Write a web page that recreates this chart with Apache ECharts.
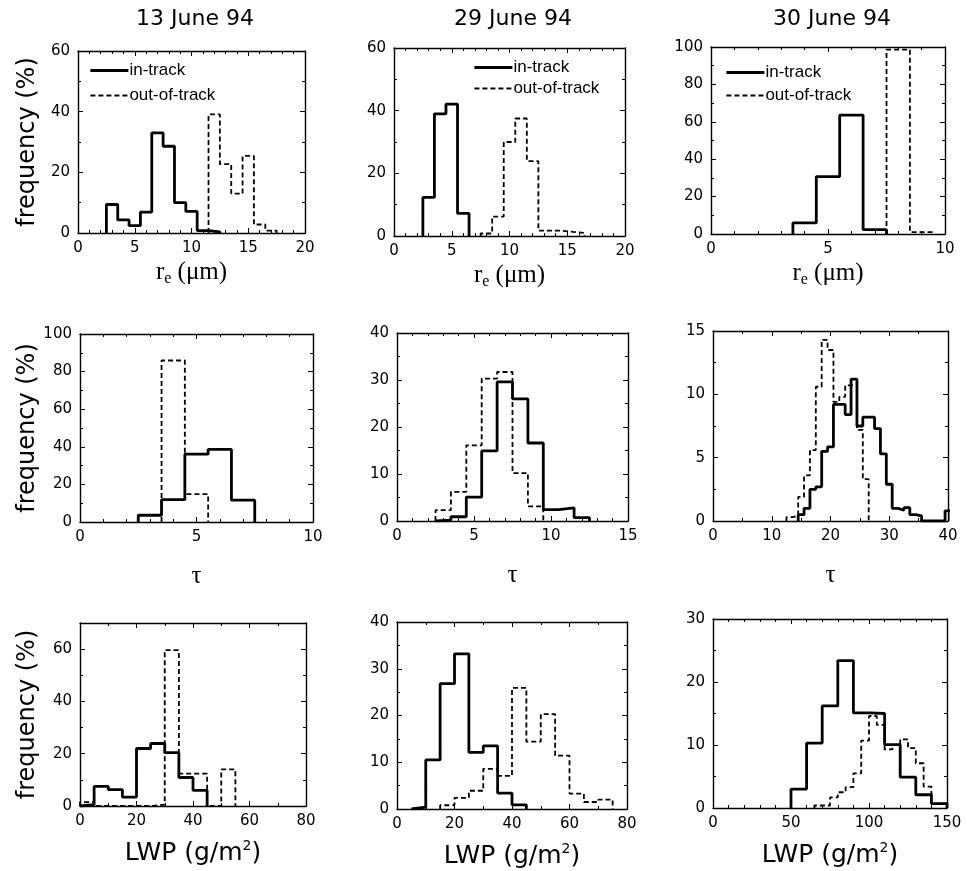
<!DOCTYPE html>
<html>
<head>
<meta charset="utf-8">
<script src="https://cdn.jsdelivr.net/npm/echarts@6/dist/echarts.min.js"></script>
<style>
  html, body { margin: 0; background: #fff; }
  #chart { width: 967px; height: 871px; }
</style>
</head>
<body>
<div id="chart"></div>
<script>
// column titles and series
const dates = ['13 June 94', '29 June 94', '30 June 94'];
const seriesNames = ['in-track', 'out-of-track'];

// frequency (%) per bin, one list per date; lower edge of the first bin in *Start
// r_e (um), 1 um bins
const reIn = [
  [9.4, 4.3, 2.4, 6.9, 33.0, 28.6, 10.0, 7.1, 0.8, 0.4],
  [12.3, 39.0, 42.1, 7.2],
  [5.9, 30.7, 63.6, 2.3]
];
const reOut = [
  [39.1, 22.7, 13.0, 25.4, 2.8, 0.8],
  [0.8, 6.2, 30.0, 37.5, 23.9, 1.7, 1.7, 1.3, 1.0],
  [98.6, 1.0]
];
const reStart = [[2.5, 11.5], [2.5, 7.5], [3.5, 7.5]];

// tau, 1 unit bins
const tauIn = [
  [3.6, 11.9, 36.1, 38.6, 11.6],
  [0.2, 0.9, 5.1, 14.9, 29.6, 26.0, 16.6, 2.4, 2.8, 0.7],
  [0.5, 1.0, 2.5, 2.7, 5.5, 5.85, 9.2, 9.2, 8.4, 11.2, 7.5, 8.2, 8.2, 7.3, 5.3, 2.9,
   1.0, 0.85, 1.05, 0.5, 0.4, 0, 0, 0, 0, 0.8]
];
const tauOut = [
  [85.9, 14.8],
  [2.3, 6.2, 16.1, 30.3, 31.7, 10.2, 3.1],
  [0.3, 0.4, 1.9, 3.6, 5.6, 10.6, 14.3, 13.5, 9.4, 9.8, 10.7, 10.8, 7.2, 3.3]
];
const tauStart = [[2.5, 3.5], [2.5, 2.5], [14.5, 12.5]];

// LWP (g/m2)
const lwpIn = [
  [0.5, 7.5, 6.3, 3.4, 22.0, 23.9, 20.4, 10.9, 6.0],
  [0.4, 10.5, 26.8, 33.2, 12.1, 13.5, 3.4, 0.9],
  [3.0, 10.3, 16.2, 23.4, 15.1, 15.0, 10.05, 4.9, 2.1, 0.7]
];
const lwpOut = [
  [1.5, 0, 0, 0, 0, 0.5, 59.6, 12.4, 12.4, 0, 14.0],
  [0.8, 2.4, 3.9, 8.6, 7.1, 25.9, 14.4, 20.3, 11.4, 3.3, 1.5, 2.0],
  [0.4, 0.4, 1.7, 2.5, 3.3, 5.5, 10.7, 14.6, 13.2, 9.3, 10.0, 10.9, 9.5, 7.1, 3.4, 0.7, 0.7]
];
const lwpStart = [[0, 0], [5, 15], [50, 65]];
const lwpWidth = [[5, 5], [5, 5], [10, 5]];

// axis ranges [max, interval, minor splits] per row and column
const xAxes = [
  [[20, 5, 5], [20, 5, 5], [10, 5, 5]],
  [[10, 5, 5], [15, 5, 5], [40, 10, 2]],
  [[80, 20, 2], [80, 20, 2], [150, 50, 5]]
];
const yAxes = [
  [[60, 20, 2], [60, 20, 2], [100, 20, 2]],
  [[100, 20, 2], [40, 10, 2], [15, 5, 2]],
  [[70, 20, 2], [40, 10, 2], [30, 10, 2]]
];

// step outline of a histogram
function hist(start, width, vals) {
  const pts = [[start, 0]];
  vals.forEach((v, i) => {
    pts.push([start + i * width, v]);
    pts.push([start + (i + 1) * width, v]);
  });
  pts.push([start + vals.length * width, 0]);
  return pts;
}

const rows = [
  { inn: reIn, out: reOut, start: reStart, width: [[1, 1], [1, 1], [1, 1]] },
  { inn: tauIn, out: tauOut, start: tauStart, width: [[1, 1], [1, 1], [1, 1]] },
  { inn: lwpIn, out: lwpOut, start: lwpStart, width: lwpWidth }
];

// plot boxes [left, top, right, bottom] in px
const boxes = [
  [[78, 51, 305, 233], [394, 48, 625, 236], [711, 47, 945, 234]],
  [[80, 334, 313, 522], [397, 333, 628, 521], [713, 331, 948, 521]],
  [[80, 623, 306, 806], [397, 622, 627, 809], [713, 619, 947, 808]]
];
const titleX = [195, 513, 832];

const sans = 'DejaVu Sans';
const xNames = [
  { text: 'r{e|e} (μm)', gap: 24, font: 'Liberation Serif' },
  { text: 'τ', gap: 42, font: 'Liberation Serif' },
  { text: 'LWP (g/m{s|2})', gap: 33, font: sans }
];

const solid = { color: '#000', width: 2.8 };
const dashed = { color: '#000', width: 1.8, type: [5, 3] };

const grid = [], xAxis = [], yAxis = [], series = [], legend = [];
const frame = { show: true, onZero: false, lineStyle: { color: '#000', width: 1.4 } };

for (let r = 0; r < 3; r++) {
  for (let c = 0; c < 3; c++) {
    const k = r * 3 + c;
    const b = boxes[r][c];
    grid.push({ left: b[0], top: b[1], width: b[2] - b[0], height: b[3] - b[1] });
    const xa = xAxes[r][c], ya = yAxes[r][c];
    const tick = { show: true, inside: true, length: 5, lineStyle: { color: '#000', width: 1 } };
    const minor = n => ({ show: true, splitNumber: n, length: 3, lineStyle: { color: '#000', width: 1 } });
    const lab = { color: '#000', fontFamily: sans, fontSize: 15, margin: 8 };
    xAxis.push({
      type: 'value', gridIndex: k, min: 0, max: xa[0], interval: xa[1],
      axisLine: frame, axisTick: tick, minorTick: minor(xa[2]),
      splitLine: { show: false }, axisLabel: lab,
      name: xNames[r].text, nameLocation: 'middle', nameGap: xNames[r].gap,
      nameTextStyle: {
        color: '#000', fontFamily: xNames[r].font, fontSize: 25,
        rich: {
          e: { fontFamily: xNames[r].font, fontSize: 16, color: '#000', padding: [14, 0, 0, 0] },
          s: { fontFamily: sans, fontSize: 14, color: '#000', padding: [0, 0, 14, 0] }
        }
      }
    });
    xAxis.push({
      type: 'value', gridIndex: k, position: 'top', min: 0, max: xa[0], interval: xa[1],
      axisLine: frame, axisTick: tick, minorTick: minor(xa[2]),
      splitLine: { show: false }, axisLabel: { show: false }
    });
    yAxis.push({
      type: 'value', gridIndex: k, min: 0, max: ya[0], interval: ya[1],
      axisLine: frame, axisTick: tick, minorTick: minor(ya[2]),
      splitLine: { show: false },
      axisLabel: Object.assign({ showMaxLabel: ya[0] % ya[1] === 0 }, lab),
      name: c === 0 ? 'frequency (%)' : '', nameLocation: 'middle', nameGap: 38 + (b[0] - 78),
      nameTextStyle: { color: '#000', fontFamily: sans, fontSize: 24 }
    });
    yAxis.push({
      type: 'value', gridIndex: k, position: 'right', min: 0, max: ya[0], interval: ya[1],
      axisLine: frame, axisTick: tick, minorTick: minor(ya[2]),
      splitLine: { show: false }, axisLabel: { show: false }
    });
    const row = rows[r];
    series.push({
      name: seriesNames[0], type: 'line', xAxisIndex: 2 * k, yAxisIndex: 2 * k,
      data: hist(row.start[c][0], row.width[c][0], row.inn[c]),
      symbol: 'none', z: 3, clip: true,
      lineStyle: solid, itemStyle: { color: '#000' }
    });
    series.push({
      name: seriesNames[1], type: 'line', xAxisIndex: 2 * k, yAxisIndex: 2 * k,
      data: hist(row.start[c][1], row.width[c][1], row.out[c]),
      symbol: 'none', z: 2, clip: true,
      lineStyle: dashed, itemStyle: { color: '#000' }
    });
  }
}

const legendPos = [[89, 62, 8], [473, 59, 4], [725, 64, 6]];
legendPos.forEach(p => {
  legend.push({
    data: [
      { name: seriesNames[0], lineStyle: solid },
      { name: seriesNames[1], lineStyle: dashed }
    ],
    orient: 'vertical', left: p[0], top: p[1], itemGap: p[2],
    itemWidth: 38, itemHeight: 14, padding: 0, selectedMode: false,
    itemStyle: { opacity: 0 },
    textStyle: { color: '#000', fontFamily: 'Liberation Sans', fontSize: 17, padding: [0, 0, 0, -4] }
  });
});

const title = dates.map((d, i) => ({
  text: d, left: titleX[i], top: 8, textAlign: 'center', padding: 0,
  textStyle: { color: '#000', fontFamily: sans, fontSize: 22, fontWeight: 'normal' }
}));

const chart = echarts.init(document.getElementById('chart'));
chart.setOption({
  animation: false,
  backgroundColor: '#fff',
  title, legend, grid, xAxis, yAxis, series
});
</script>
</body>
</html>
